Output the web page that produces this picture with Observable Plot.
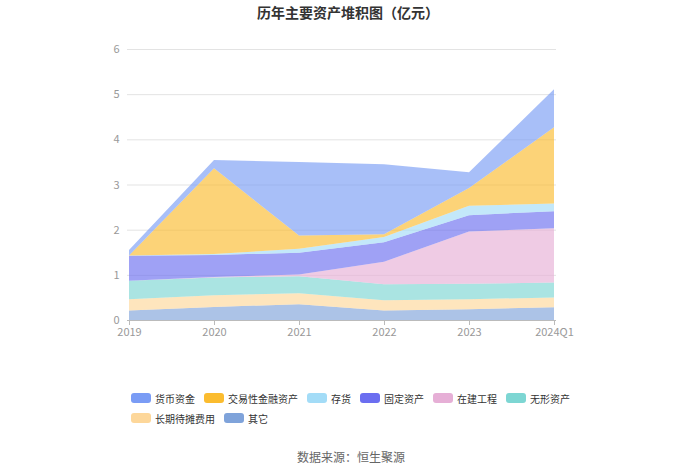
<!DOCTYPE html>
<html>
<head>
<meta charset="utf-8">
<script src="https://cdn.jsdelivr.net/npm/d3@7"></script>
<script src="https://cdn.jsdelivr.net/npm/@observablehq/plot@0.6"></script>
<style>
  body { margin: 0; background: #fff; font-family: "Noto Sans CJK SC", "Noto Sans", sans-serif; }
  #wrap { position: relative; width: 700px; height: 474px; }
  #title { position: absolute; left: 0; top: 0; width: 696px; height: 24px; line-height: 24px; text-align: center; font-size: 14px; font-weight: bold; color: #333; }
  #chart { position: absolute; left: 0; top: 24px; }
  #legend { position: absolute; left: 131px; top: 388px; width: 460px; display: flex; flex-wrap: wrap; }
  .item { display: inline-flex; align-items: center; height: 20px; margin-right: 9px; font-size: 10px; color: #333; }
  .sw { width: 20px; height: 10px; border-radius: 3px; margin-right: 4px; }
  #caption { position: absolute; left: 0; top: 447px; width: 702px; text-align: center; font-size: 12px; color: #666; line-height: 20px; }
</style>
</head>
<body>
<div id="wrap">
  <div id="title">历年主要资产堆积图（亿元）</div>
  <div id="chart"></div>
  <div id="legend"></div>
  <div id="caption">数据来源：恒生聚源</div>
</div>
<script>
const years = ["2019", "2020", "2021", "2022", "2023", "2024Q1"];
// stacking order: bottom to top
const seriesNames = ["其它", "长期待摊费用", "无形资产", "在建工程", "固定资产", "存货", "交易性金融资产", "货币资金"];
const legendOrder = ["货币资金", "交易性金融资产", "存货", "固定资产", "在建工程", "无形资产", "长期待摊费用", "其它"];
const colors = {
  "货币资金": "#7a9cf5",
  "交易性金融资产": "#fbbc2f",
  "存货": "#a3dcf7",
  "固定资产": "#6b6ef0",
  "在建工程": "#e6afd6",
  "无形资产": "#7dd6d3",
  "长期待摊费用": "#fdd79a",
  "其它": "#7fa3da"
};
const other      = [0.21, 0.29, 0.35, 0.21, 0.24, 0.28];
const longTerm   = [0.25, 0.26, 0.24, 0.23, 0.22, 0.22];
const intangible = [0.41, 0.39, 0.38, 0.35, 0.34, 0.33];
const construct  = [0.00, 0.01, 0.04, 0.50, 1.16, 1.20];
const fixed      = [0.55, 0.49, 0.48, 0.43, 0.36, 0.38];
const inventory  = [0.01, 0.02, 0.09, 0.12, 0.21, 0.17];
const tradingFin = [0.00, 1.90, 0.29, 0.06, 0.39, 1.69];
const cash       = [0.12, 0.18, 1.63, 1.55, 0.35, 0.84];
const yTicks = [0, 1, 2, 3, 4, 5, 6];

const seriesValues = {
  "其它": other, "长期待摊费用": longTerm, "无形资产": intangible, "在建工程": construct,
  "固定资产": fixed, "存货": inventory, "交易性金融资产": tradingFin, "货币资金": cash
};
const data = [];
for (const s of seriesNames) {
  years.forEach((yr, i) => data.push({year: yr, series: s, value: seriesValues[s][i]}));
}

const plot = Plot.plot({
  width: 700,
  height: 326,
  marginTop: 25,
  marginBottom: 30,
  marginLeft: 127,
  marginRight: 144,
  style: {fontFamily: '"Noto Sans CJK SC", "Noto Sans", sans-serif', fontSize: "11px", background: "transparent"},
  x: {type: "point", domain: years, padding: 0, label: null},
  y: {domain: [0, 6], label: null},
  color: {domain: seriesNames, range: seriesNames.map(s => colors[s])},
  marks: [
    Plot.gridY(yTicks, {stroke: "#e3e3e3", strokeOpacity: 1}),
    Plot.areaY(data, {x: "year", y: "value", z: "series", fill: "series", fillOpacity: 0.65, order: seriesNames}),
    Plot.axisY(yTicks, {tickSize: 0, tickPadding: 8, color: "#999", label: null}),
    Plot.ruleY([0], {stroke: "#bbb"}),
    Plot.axisX({tickSize: 5, tickPadding: 3, color: "#999", stroke: "#bbb", label: null})
  ]
});
document.getElementById("chart").appendChild(plot);

const legend = document.getElementById("legend");
for (const s of legendOrder) {
  const it = document.createElement("div");
  it.className = "item";
  const sw = document.createElement("span");
  sw.className = "sw";
  sw.style.background = colors[s];
  const tx = document.createElement("span");
  tx.textContent = s;
  it.appendChild(sw);
  it.appendChild(tx);
  legend.appendChild(it);
}
</script>
</body>
</html>
